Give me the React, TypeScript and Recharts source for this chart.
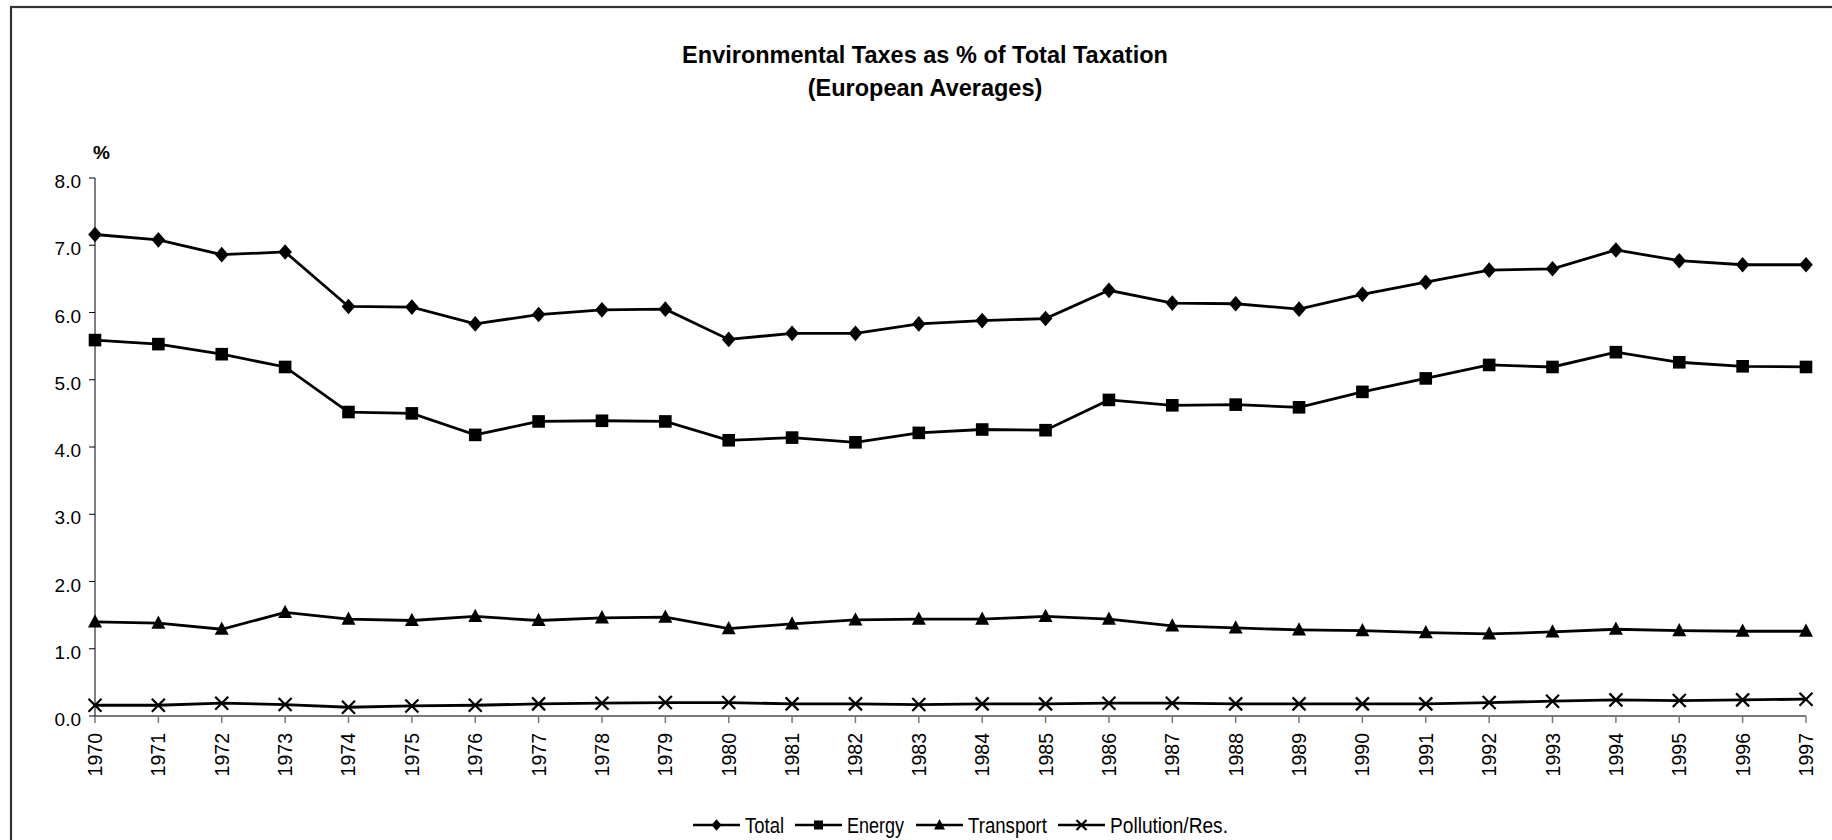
import React from 'react';
import { LineChart, Line, XAxis, YAxis, Legend, Customized } from 'recharts';

const years = [1970, 1971, 1972, 1973, 1974, 1975, 1976, 1977, 1978, 1979, 1980, 1981, 1982, 1983, 1984, 1985, 1986, 1987, 1988, 1989, 1990, 1991, 1992, 1993, 1994, 1995, 1996, 1997];
const totalValues = [7.16, 7.08, 6.86, 6.90, 6.09, 6.08, 5.83, 5.97, 6.04, 6.05, 5.60, 5.69, 5.69, 5.83, 5.88, 5.91, 6.33, 6.14, 6.13, 6.05, 6.27, 6.45, 6.63, 6.65, 6.93, 6.77, 6.71, 6.71];
const energyValues = [5.59, 5.53, 5.38, 5.19, 4.52, 4.50, 4.18, 4.38, 4.39, 4.38, 4.10, 4.14, 4.07, 4.21, 4.26, 4.25, 4.70, 4.62, 4.63, 4.59, 4.82, 5.02, 5.22, 5.19, 5.41, 5.26, 5.20, 5.19];
const transportValues = [1.40, 1.38, 1.29, 1.54, 1.44, 1.42, 1.48, 1.42, 1.46, 1.47, 1.30, 1.37, 1.43, 1.44, 1.44, 1.48, 1.44, 1.34, 1.31, 1.28, 1.27, 1.24, 1.22, 1.25, 1.29, 1.27, 1.26, 1.26];
const pollutionValues = [0.16, 0.16, 0.19, 0.17, 0.13, 0.15, 0.16, 0.18, 0.19, 0.20, 0.20, 0.18, 0.18, 0.17, 0.18, 0.18, 0.19, 0.19, 0.18, 0.18, 0.18, 0.18, 0.20, 0.22, 0.24, 0.23, 0.24, 0.25];
const yTicks = [0, 1, 2, 3, 4, 5, 6, 7, 8];
const seriesNames = ['Total', 'Energy', 'Transport', 'Pollution/Res.'];
const titleLines = ['Environmental Taxes as % of Total Taxation', '(European Averages)'];
const unitLabel = '%';

const data = years.map((year, i) => ({
  year,
  total: totalValues[i],
  energy: energyValues[i],
  transport: transportValues[i],
  pollution: pollutionValues[i],
}));

const FONT = "'Liberation Sans', Arial, sans-serif";

type Shape = 'diamond' | 'square' | 'triangle' | 'cross';

const Marker = ({ cx, cy, shape, s }: { cx: number; cy: number; shape: Shape; s: number }) => {
  if (shape === 'diamond') {
    return <polygon points={`${cx},${cy - s * 1.15} ${cx + s},${cy} ${cx},${cy + s * 1.15} ${cx - s},${cy}`} fill="#000" />;
  }
  if (shape === 'square') {
    return <rect x={cx - s} y={cy - s} width={2 * s} height={2 * s} fill="#000" />;
  }
  if (shape === 'triangle') {
    return <polygon points={`${cx},${cy - s * 1.1} ${cx + s},${cy + s * 0.8} ${cx - s},${cy + s * 0.8}`} fill="#000" />;
  }
  return (
    <g stroke="#000" strokeWidth={2.2}>
      <line x1={cx - s} y1={cy - s} x2={cx + s} y2={cy + s} />
      <line x1={cx - s} y1={cy + s} x2={cx + s} y2={cy - s} />
    </g>
  );
};

const dotSize: Record<Shape, number> = { diamond: 6.8, square: 6.3, triangle: 7, cross: 6.5 };

const makeDot = (shape: Shape) => (p: any) => {
  if (p.cx == null || p.cy == null) return <g key={`${shape}-${p.index}`} />;
  return <Marker key={`${shape}-${p.index}`} cx={p.cx} cy={p.cy} shape={shape} s={dotSize[shape]} />;
};

const XTick = (p: any) => {
  const { x, y, payload } = p;
  return (
    <text x={x} y={y} transform={`rotate(-90 ${x} ${y})`} textAnchor="end" dy="0.36em" fontFamily={FONT} fontSize={19.5} fill="#000">
      {payload.value}
    </text>
  );
};

const YTick = (p: any) => {
  const { x, y, payload } = p;
  return (
    <text x={x} y={y} dy={10} textAnchor="end" fontFamily={FONT} fontSize={19} fill="#000">
      {Number(payload.value).toFixed(1)}
    </text>
  );
};

const legendShapes: Shape[] = ['diamond', 'square', 'triangle', 'cross'];
const legendMarkerSize = [5, 4.5, 5.5, 5];
// layout of the legend row (line start offsets and label widths, narrow font look)
const legendLineStart = [0, 102, 223, 365];
const legendLabelWidth = [39, 57, 79, 118];
const LINE_W = 47;

const renderLegend = () => (
  <svg width={540} height={30} style={{ display: 'block', overflow: 'visible' }}>
    {seriesNames.map((name, i) => {
      const x0 = legendLineStart[i];
      return (
        <g key={name}>
          <line x1={x0} y1={15} x2={x0 + LINE_W} y2={15} stroke="#000" strokeWidth={2.5} />
          <Marker cx={x0 + LINE_W / 2} cy={15} shape={legendShapes[i]} s={legendMarkerSize[i]} />
          <text
            x={x0 + LINE_W + 5}
            y={15}
            dy="0.36em"
            fontFamily={FONT}
            fontSize={21.5}
            fill="#000"
            textLength={legendLabelWidth[i]}
            lengthAdjust="spacingAndGlyphs"
          >
            {name}
          </text>
        </g>
      );
    })}
  </svg>
);

const Decorations = () => (
  <g>
    <rect x={11} y={7} width={1850} height={860} fill="none" stroke="#333" strokeWidth={2.2} />
    <text x={925} y={63} textAnchor="middle" fontFamily={FONT} fontWeight="bold" fontSize={23.5} fill="#000">{titleLines[0]}</text>
    <text x={925} y={96} textAnchor="middle" fontFamily={FONT} fontWeight="bold" fontSize={23.5} fill="#000">{titleLines[1]}</text>
    <text x={93} y={159} fontFamily={FONT} fontWeight="bold" fontSize={19} fill="#000">{unitLabel}</text>
  </g>
);

export default function App() {
  return (
    <div style={{ position: 'absolute', left: 0, top: 0, width: 1832, height: 840, background: '#fff' }}>
      <LineChart width={1832} height={840} data={data} margin={{ top: 178, right: 26, left: 0, bottom: 64 }}>
        <Customized component={Decorations} />
        <XAxis
          dataKey="year"
          type="number"
          domain={[1970, 1997]}
          ticks={years}
          interval={0}
          height={60}
          tickSize={7}
          tickMargin={10}
          axisLine={{ stroke: '#7a7a7a', strokeWidth: 2 }}
          tickLine={{ stroke: '#7a7a7a', strokeWidth: 1.5 }}
          tick={<XTick />}
        />
        <YAxis
          type="number"
          domain={[0, 8]}
          ticks={yTicks}
          interval={0}
          width={95}
          tickSize={6}
          tickMargin={8}
          axisLine={{ stroke: '#000', strokeWidth: 1 }}
          tickLine={{ stroke: '#000', strokeWidth: 1 }}
          tick={<YTick />}
        />
        <Legend layout="horizontal" verticalAlign="middle" align="center" wrapperStyle={{ top: 810, left: 693, width: 540, height: 30 }} content={renderLegend} />
        <Line dataKey="total" name={seriesNames[0]} stroke="#000" strokeWidth={2.8} dot={makeDot('diamond')} isAnimationActive={false} />
        <Line dataKey="energy" name={seriesNames[1]} stroke="#000" strokeWidth={2.8} dot={makeDot('square')} isAnimationActive={false} />
        <Line dataKey="transport" name={seriesNames[2]} stroke="#000" strokeWidth={2.8} dot={makeDot('triangle')} isAnimationActive={false} />
        <Line dataKey="pollution" name={seriesNames[3]} stroke="#000" strokeWidth={2.8} dot={makeDot('cross')} isAnimationActive={false} />
      </LineChart>
    </div>
  );
}
